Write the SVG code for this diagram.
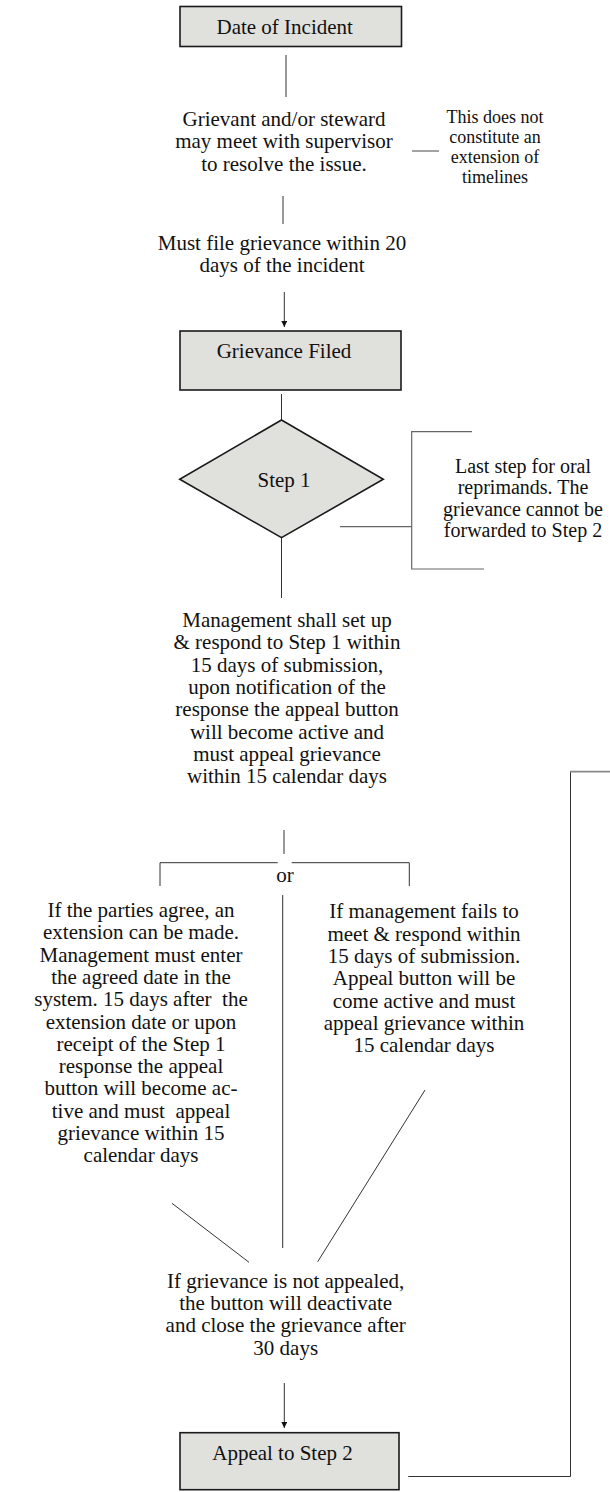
<svg xmlns="http://www.w3.org/2000/svg" width="610" height="1492" viewBox="0 0 610 1492">
<style>
.box{fill:#e0e0dc;stroke:#1a1a1a;stroke-width:1.6}
.t{font-family:"Liberation Serif","Times New Roman",serif;font-size:21px;fill:#111;text-anchor:middle}
.n{font-family:"Liberation Serif","Times New Roman",serif;font-size:20px;fill:#111;text-anchor:middle}
.s{font-family:"Liberation Serif","Times New Roman",serif;font-size:18px;fill:#111;text-anchor:middle}
.ln{stroke:#333;stroke-width:1;fill:none}
.gl{stroke:#666;stroke-width:1.2;fill:none}
</style>
<defs>
<marker id="ah" viewBox="0 0 6 6" refX="6" refY="3" markerWidth="6" markerHeight="6" markerUnits="userSpaceOnUse" orient="auto">
<path d="M0,0 L6,3 L0,6 Z" fill="#111"/>
</marker>
</defs>
<rect width="610" height="1492" fill="#fff"/>
<g id="connectors">
<line class="ln" x1="286" y1="55" x2="286" y2="97"/>
<line class="gl" x1="412" y1="151" x2="439" y2="151"/>
<line class="ln" x1="283" y1="196" x2="283" y2="224"/>
<line class="ln" x1="284.3" y1="292" x2="284.3" y2="327" marker-end="url(#ah)"/>
<line class="ln" x1="281.5" y1="394" x2="281.5" y2="420"/>
<line class="ln" x1="281.5" y1="538" x2="281.5" y2="598"/>
<polyline class="gl" points="472,431.7 411.7,431.7 411.7,569 484,569"/>
<line class="gl" x1="340" y1="526.7" x2="411.7" y2="526.7"/>
<line class="ln" x1="284" y1="830" x2="284" y2="854"/>
<polyline class="ln" points="160,886 160,862.7 277.7,862.7"/>
<polyline class="ln" points="291.7,862.7 409.3,862.7 409.3,886"/>
<line class="ln" x1="282.7" y1="895" x2="282.7" y2="1248"/>
<line class="ln" x1="172" y1="1203.3" x2="249" y2="1262.3"/>
<line class="ln" x1="425" y1="1090" x2="317.7" y2="1261.7"/>
<line class="ln" x1="284.3" y1="1383" x2="284.3" y2="1428" marker-end="url(#ah)"/>
<polyline class="ln" points="408.3,1476.5 570.5,1476.5 570.5,771.7"/>
<line stroke="#888" stroke-width="1.8" x1="570" y1="771.7" x2="610" y2="771.7"/>
</g>
<g id="date-of-incident">
<rect class="box" x="180" y="6.5" width="221.5" height="40"/>
<text class="t" x="284.7" y="34.3">Date of Incident</text>
</g>
<g id="meet-supervisor">
<text class="t" x="284" y="126">Grievant and/or steward</text>
<text class="t" x="284" y="148.3">may meet with supervisor</text>
<text class="t" x="284" y="170.6">to resolve the issue.</text>
</g>
<g id="note-extension">
<text class="s" x="495" y="123.3">This does not</text>
<text class="s" x="495" y="143.3">constitute an</text>
<text class="s" x="495" y="163.3">extension of</text>
<text class="s" x="495" y="183.3">timelines</text>
</g>
<g id="file-within-20">
<text class="t" x="282" y="250">Must file grievance within 20</text>
<text class="t" x="282" y="272.3">days of the incident</text>
</g>
<g id="grievance-filed">
<rect class="box" x="180" y="331" width="221" height="59"/>
<text class="t" x="284" y="358">Grievance Filed</text>
</g>
<g id="step1">
<polygon class="box" points="281.5,420 383.3,479.3 281.5,537.7 179.7,479.3"/>
<text class="t" x="284" y="487">Step 1</text>
</g>
<g id="note-oral">
<text class="n" x="523" y="473">Last step for oral</text>
<text class="n" x="523" y="494.3">reprimands. The</text>
<text class="n" x="523" y="515.6">grievance cannot be</text>
<text class="n" x="523" y="536.9">forwarded to Step 2</text>
</g>
<g id="management-respond">
<text class="t" x="287" y="627">Management shall set up</text>
<text class="t" x="287" y="649.3">&amp; respond to Step 1 within</text>
<text class="t" x="287" y="671.6">15 days of submission,</text>
<text class="t" x="287" y="693.9">upon notification of the</text>
<text class="t" x="287" y="716.2">response the appeal button</text>
<text class="t" x="287" y="738.5">will become active and</text>
<text class="t" x="287" y="760.8">must appeal grievance</text>
<text class="t" x="287" y="783">within 15 calendar days</text>
</g>
<g id="or-label">
<text class="t" x="285" y="881.7">or</text>
</g>
<g id="parties-agree">
<text class="t" x="141" y="917">If the parties agree, an</text>
<text class="t" x="141" y="939.3">extension can be made.</text>
<text class="t" x="141" y="961.6">Management must enter</text>
<text class="t" x="141" y="983.9">the agreed date in the</text>
<text class="t" x="141" y="1006.2" xml:space="preserve">system. 15 days after  the</text>
<text class="t" x="141" y="1028.5">extension date or upon</text>
<text class="t" x="141" y="1050.8">receipt of the Step 1</text>
<text class="t" x="141" y="1073.1">response the appeal</text>
<text class="t" x="141" y="1095.4">button will become ac-</text>
<text class="t" x="141" y="1117.7" xml:space="preserve">tive and must  appeal</text>
<text class="t" x="141" y="1140">grievance within 15</text>
<text class="t" x="141" y="1162.3">calendar days</text>
</g>
<g id="management-fails">
<text class="t" x="424" y="918.3">If management fails to</text>
<text class="t" x="424" y="940.6">meet &amp; respond within</text>
<text class="t" x="424" y="962.9">15 days of submission.</text>
<text class="t" x="424" y="985.2">Appeal button will be</text>
<text class="t" x="424" y="1007.5">come active and must</text>
<text class="t" x="424" y="1029.8">appeal grievance within</text>
<text class="t" x="424" y="1052.1">15 calendar days</text>
</g>
<g id="not-appealed">
<text class="t" x="285.7" y="1287.7">If grievance is not appealed,</text>
<text class="t" x="285.7" y="1310">the button will deactivate</text>
<text class="t" x="285.7" y="1332.3">and close the grievance after</text>
<text class="t" x="285.7" y="1354.6">30 days</text>
</g>
<g id="appeal-step2">
<rect class="box" x="180" y="1432.7" width="219" height="57"/>
<text class="t" x="282.5" y="1460">Appeal to Step 2</text>
</g>
</svg>
